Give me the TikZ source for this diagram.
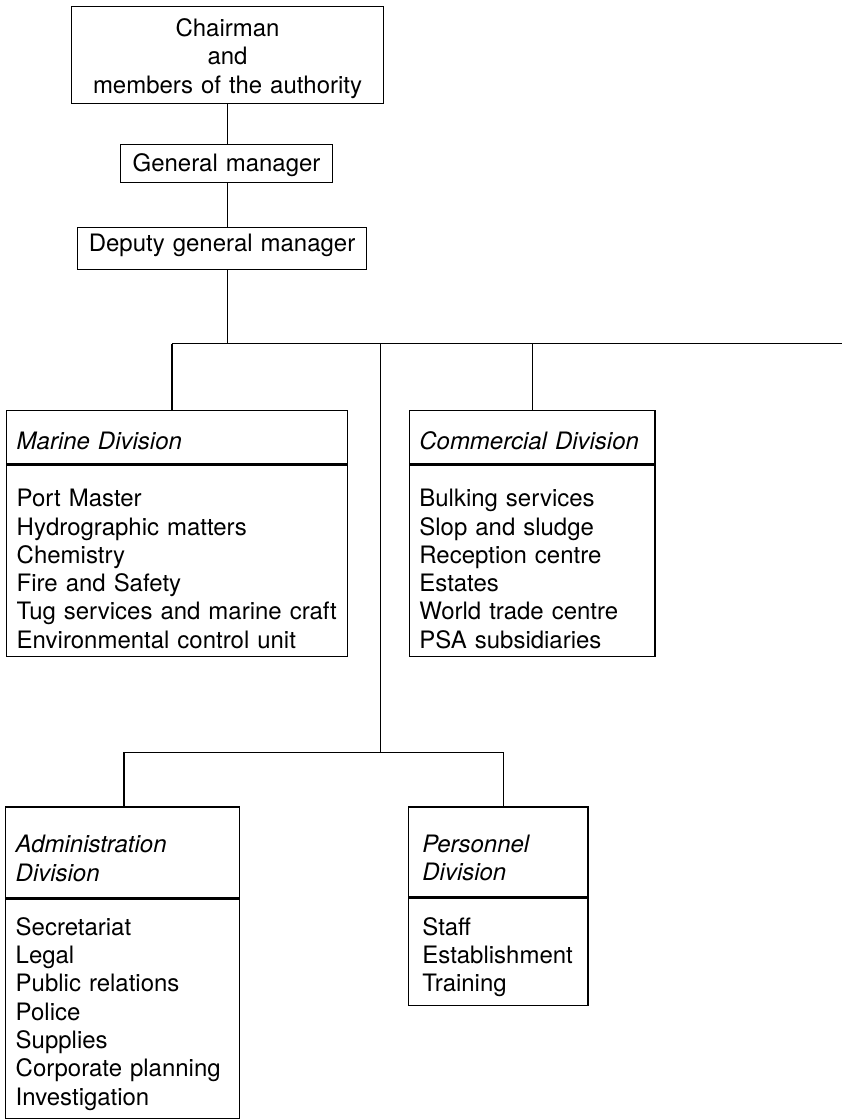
\documentclass[tikz,border=0pt]{standalone}
\usepackage{fontspec}
\setmainfont{TeX Gyre Heros}
\usetikzlibrary{positioning}

\begin{document}
\begin{tikzpicture}[x=1pt,y=-1pt,line width=1.5pt,
    box/.style={draw,inner ysep=0pt,inner xsep=6pt,anchor=north west,align=center,
        font=\fontsize{24pt}{28.3pt}\selectfont},
    head/.style={box,align=left,inner xsep=10pt,font=\fontsize{24pt}{28.3pt}\selectfont\itshape},
    list/.style={box,align=left,inner xsep=10pt}]
    \fill[white] (0,0) rectangle (843,1119);
    % top of the chart
    \node[box,text width=300pt,text height=30pt,text depth=67pt] (chair) at (71,6)
        {Chairman\\and\\members of the authority};
    \node[box,text width=200pt,text height=27pt,text depth=11pt] (gm) at (120,144) {General manager};
    \node[box,text width=277pt,text height=24pt,text depth=18pt] (dgm) at (77,227) {Deputy general manager};
    \draw (chair.south) -- (chair.south |- gm.north);
    \draw (chair.south |- gm.south) -- (chair.south |- dgm.north);
    % first row of divisions
    \node[head,text width=321pt,text height=39pt,text depth=14pt] (marine) at (6,410) {Marine Division};
    \node[list,text width=321pt,text height=42pt,text depth=150pt,below=0pt of marine] (marinelist)
        {Port Master\\Hydrographic matters\\Chemistry\\Fire and Safety\\Tug services and marine craft\\Environmental control unit};
    \node[head,text width=226pt,text height=39pt,text depth=14pt] (comm) at (409,410) {Commercial Division};
    \node[list,text width=226pt,text height=42pt,text depth=150pt,below=0pt of comm] (commlist)
        {Bulking services\\Slop and sludge\\Reception centre\\Estates\\World trade centre\\PSA subsidiaries};
    \coordinate (busL) at (172,344);
    \coordinate (busR) at (843,344);
    \coordinate (busM) at (381,344);
    \draw (busL) -- (busR);
    \draw (chair.south |- dgm.south) -- (chair.south |- busL);
    \draw (busL) -- (busL |- marine.north);
    \draw (comm.north) -- (comm.north |- busL);
    % second row of divisions
    \node[head,text width=214pt,text height=46pt,text depth=45pt] (admin) at (5,807) {Administration\\Division};
    \node[list,text width=214pt,text height=36pt,text depth=183pt,below=0pt of admin] (adminlist)
        {Secretariat\\Legal\\Public relations\\Police\\Supplies\\Corporate planning\\Investigation};
    \node[head,inner xsep=14pt,text width=152pt,text height=45pt,text depth=45pt] (pers) at (408,807) {Personnel\\Division};
    \node[list,inner xsep=14pt,text width=152pt,text height=37pt,text depth=70pt,below=0pt of pers] (perslist)
        {Staff\\Establishment\\Training};
    \coordinate (lowL) at (124,753);
    \coordinate (lowR) at (504,753);
    \draw (busM) -- (busM |- lowL);
    \draw (lowL) -- (lowR);
    \draw (lowL) -- (lowL |- admin.north);
    \draw (lowR) -- (lowR |- pers.north);
\end{tikzpicture}
\end{document}
